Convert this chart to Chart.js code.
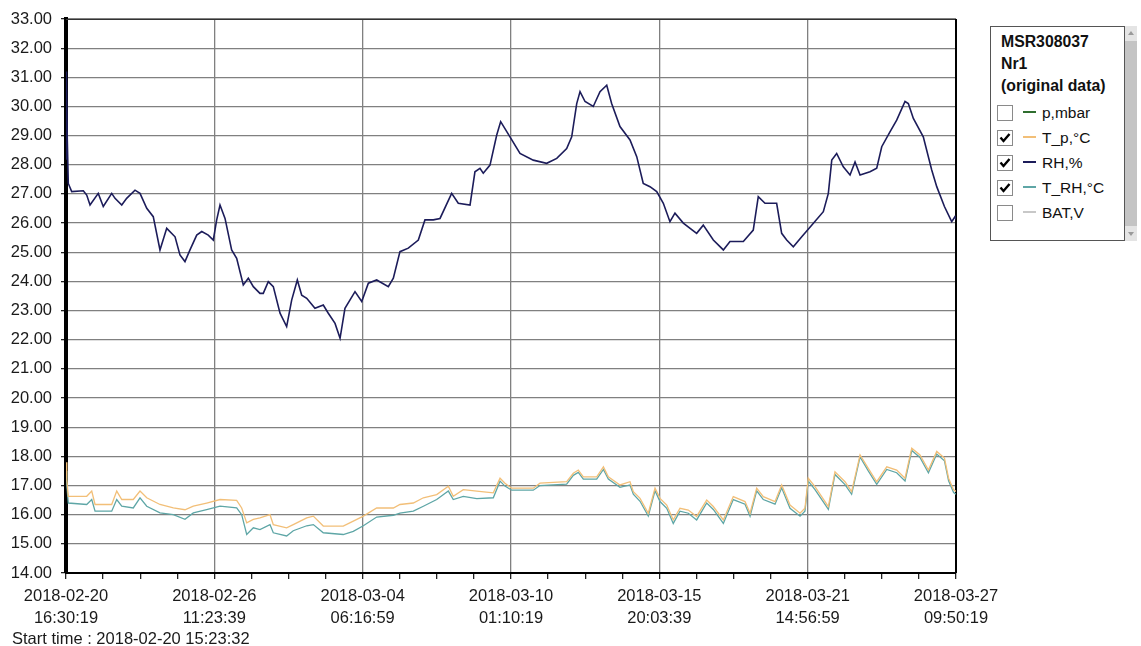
<!DOCTYPE html>
<html>
<head>
<meta charset="utf-8">
<title>MSR308037 Nr1</title>
<script src="https://cdn.jsdelivr.net/npm/chart.js@4.4.0/dist/chart.umd.min.js"></script>
<style>
body { margin:0; background:#fff; font-family:'Liberation Sans', Arial, sans-serif; }
#wrap { position:relative; width:1141px; height:646px; overflow:hidden; }
#chart { position:absolute; left:0; top:0; }
#start { position:absolute; left:12px; top:630px; font-size:16.5px; color:#1a1a1a; line-height:16px; }
#legend { position:absolute; left:990px; top:26px; width:133px; height:213px; border:1px solid #555; background:#fff; }
#legend .ttl { position:absolute; left:10px; font-weight:bold; font-size:15.8px; color:#111; white-space:nowrap; }
#legend .item { position:absolute; left:0; height:20px; width:133px; }
#legend .box { position:absolute; left:6px; top:2px; width:14px; height:14px; border:1px solid #8a8a8a; background:#fff; }
#legend .box svg { position:absolute; left:1px; top:1px; }
#legend .ln { position:absolute; left:32px; top:8px; width:13px; height:2px; }
#legend .txt { position:absolute; left:51px; top:1px; font-size:15.5px; color:#111; white-space:nowrap; }
#scroll { position:absolute; left:1125px; top:26px; width:12px; height:215px; background:#c4c4c4; }
#scroll .btn { position:absolute; left:0; width:12px; height:15px; background:#e4e4e4; }
</style>
</head>
<body>
<div id="wrap">
  <canvas id="chart" width="1141" height="646"></canvas>
  <div id="start">Start time : 2018-02-20 15:23:32</div>
  <div id="legend"></div>
  <div id="scroll">
    <div class="btn" style="top:0"><svg width="12" height="15"><path d="M3 9 L6 5 L9 9 Z" fill="#9a9a9a"/></svg></div>
    <div class="btn" style="bottom:0"><svg width="12" height="15"><path d="M3 6 L6 10 L9 6 Z" fill="#9a9a9a"/></svg></div>
  </div>
</div>
<script>
// x axis labels, one every 500000 s starting at 2018-02-20 16:30:19
const tickLabels = [
    ['2018-02-20', '16:30:19'],
    ['2018-02-26', '11:23:39'],
    ['2018-03-04', '06:16:59'],
    ['2018-03-10', '01:10:19'],
    ['2018-03-15', '20:03:39'],
    ['2018-03-21', '14:56:59'],
    ['2018-03-27', '09:50:19']
];
const majorStep = 500000 / 3600;   // hours between labelled ticks
const xMax = 6 * majorStep;

// legend entries
const legendTitle = ['MSR308037', 'Nr1', '(original data)'];
const legendNames = ['p,mbar', 'T_p,°C', 'RH,%', 'T_RH,°C', 'BAT,V'];
const legendColors = ['#2f6e2f', '#f2bf78', '#1c1c5a', '#5ea6a6', '#c8c8c8'];
const legendChecked = [false, true, true, true, false];

// RH,% (hours since first tick)
const rhHours = [0, 0.28, 0.56, 1.12, 2.15, 5.34, 16.2, 19.4, 22.5, 30.2, 34.9, 42.8, 45.9, 52.2, 56.8, 64.6,
    69.3, 75.6, 81.7, 88.0, 94.3, 102.1, 106.7, 111.4, 116.1, 122.4, 127.1, 133.2, 137.9, 141.1, 144.2,
    148.9, 155.1, 159.8, 166.0, 170.7, 175.4, 181.6, 184.7, 189.4, 194.1, 200.4, 206.6, 211.3, 216.6,
    220.7, 225.4, 233.1, 240.9, 245.6, 251.9, 256.6, 261.2, 270.6, 276.9, 283.1, 290.9, 301.8, 306.5,
    312.7, 320.5, 329.9, 336.1, 343.9, 350.2, 361.1, 367.3, 378.3, 382.9, 387.6, 390.7, 397.0, 403.3,
    407.0, 415.7, 425.1, 437.5, 450.1, 459.5, 468.8, 473.5, 478.2, 481.3, 486.0, 493.7, 500.0, 506.3,
    510.9, 518.7, 528.1, 534.4, 540.5, 546.8, 553.1, 559.3, 565.5, 570.2, 578.0, 590.5, 596.7, 606.1,
    615.5, 621.7, 634.2, 643.5, 648.2, 654.5, 665.4, 670.1, 674.8, 681.0, 688.9, 698.2, 709.1, 713.8,
    717.0, 721.6, 727.8, 734.1, 738.8, 743.5, 752.8, 759.1, 763.8, 771.5, 777.8, 785.6, 788.7, 793.4,
    802.7, 810.6, 815.3, 822.5, 829.3, 832.4, 833.3];
const rhValues = [28.2, 29.3, 31.2, 29.0, 27.36, 27.08, 27.11, 26.96, 26.62, 27.02, 26.57, 27.02, 26.85, 26.62, 26.85, 27.13,
    27.02, 26.51, 26.22, 25.08, 25.82, 25.53, 24.91, 24.68, 25.08, 25.59, 25.71, 25.59, 25.42, 26.11, 26.62,
    26.16, 25.08, 24.79, 23.88, 24.11, 23.82, 23.59, 23.59, 23.99, 23.82, 22.91, 22.45, 23.36, 24.05,
    23.53, 23.42, 23.08, 23.19, 22.91, 22.56, 22.05, 23.08, 23.65, 23.31, 23.94, 24.05, 23.82, 24.11,
    25.02, 25.14, 25.42, 26.11, 26.11, 26.16, 27.02, 26.68, 26.62, 27.76, 27.88, 27.71, 27.99, 29.02,
    29.48, 28.96, 28.39, 28.16, 28.05, 28.22, 28.56, 28.96, 30.10, 30.51, 30.17, 30.0, 30.51, 30.73,
    30.10, 29.31, 28.85, 28.28, 27.36, 27.25, 27.08, 26.68, 26.05, 26.34, 26.0, 25.65, 25.93, 25.42,
    25.08, 25.37, 25.37, 25.76, 26.91, 26.68, 26.68, 25.65, 25.42, 25.19, 25.53, 25.93, 26.39, 27.02,
    28.16, 28.39, 27.93, 27.65, 28.10, 27.65, 27.76, 27.88, 28.62, 29.13, 29.53, 30.17, 30.10, 29.59,
    28.96, 27.82, 27.25, 26.57, 26.05, 26.22, 26.15];

// T_p,°C and T_RH,°C share the same sample times
const tHours = [0.28, 0.75, 2.15, 19.4, 24.1, 27.2, 42.8, 47.5, 52.2, 63.0, 69.3, 75.6, 88.0, 100.5, 111.4,
    119.2, 131.7, 144.2, 159.8, 164.5, 169.2, 175.4, 181.6, 191.0, 194.1, 206.6, 212.8, 225.4, 231.6,
    240.9, 259.6, 269.0, 278.4, 290.9, 306.5, 312.7, 325.2, 334.6, 347.1, 358.0, 362.6, 372.0, 384.6,
    400.1, 406.4, 411.0, 417.3, 437.5, 443.8, 468.8, 475.0, 479.7, 484.4, 496.9, 503.2, 507.8, 518.7,
    528.1, 531.2, 537.5, 545.2, 551.5, 556.2, 562.5, 568.6, 574.9, 582.7, 590.5, 599.9, 606.1, 615.5,
    624.8, 635.8, 640.5, 646.7, 652.9, 663.9, 670.1, 677.9, 687.3, 691.9, 695.0, 701.3, 710.7, 713.8,
    720.0, 729.4, 735.6, 743.5, 751.2, 759.1, 768.5, 777.8, 785.6, 791.9, 799.6, 807.5, 815.3, 822.5,
    826.4, 831.1, 833.3];
const tpValues = [17.8, 17.2, 16.63, 16.63, 16.81, 16.35, 16.35, 16.81, 16.52, 16.52, 16.81, 16.58, 16.35, 16.23, 16.17,
    16.29, 16.40, 16.52, 16.49, 16.23, 15.72, 15.84, 15.89, 16.0, 15.66, 15.55, 15.66, 15.89, 15.95,
    15.61, 15.61, 15.78, 15.95, 16.23, 16.23, 16.35, 16.40, 16.58, 16.69, 16.98, 16.63, 16.86, 16.81,
    16.75, 17.25, 17.08, 16.91, 16.91, 17.08, 17.13, 17.42, 17.53, 17.3, 17.3, 17.64, 17.3, 17.02,
    17.13, 16.79, 16.56, 16.05, 16.91, 16.56, 16.33, 15.82, 16.22, 16.16, 15.94, 16.5, 16.28, 15.82,
    16.62, 16.45, 16.05, 16.91, 16.62, 16.45, 17.02, 16.33, 16.05, 16.22, 17.25, 16.96, 16.45, 16.28,
    17.47, 17.13, 16.79, 18.05, 17.59, 17.13, 17.64, 17.53, 17.25, 18.28, 18.05, 17.53, 18.17, 17.94,
    17.25, 16.85, 16.8];
const trhValues = [17.5, 17.0, 16.40, 16.35, 16.52, 16.12, 16.12, 16.52, 16.29, 16.23, 16.58, 16.29, 16.06, 16.0, 15.84,
    16.06, 16.17, 16.29, 16.23, 16.0, 15.32, 15.55, 15.49, 15.66, 15.38, 15.27, 15.45, 15.62, 15.66,
    15.38, 15.32, 15.43, 15.62, 15.92, 15.98, 16.05, 16.12, 16.29, 16.52, 16.81, 16.52, 16.63, 16.55,
    16.58, 17.15, 16.98, 16.84, 16.84, 17.0, 17.05, 17.35, 17.45, 17.22, 17.22, 17.55, 17.22, 16.94,
    17.02, 16.7, 16.46, 15.95, 16.82, 16.45, 16.22, 15.7, 16.12, 16.05, 15.82, 16.4, 16.18, 15.7,
    16.52, 16.36, 15.95, 16.82, 16.52, 16.36, 16.92, 16.22, 15.95, 16.12, 17.15, 16.86, 16.35, 16.18,
    17.38, 17.03, 16.7, 17.98, 17.5, 17.04, 17.55, 17.44, 17.16, 18.2, 17.96, 17.44, 18.08, 17.85,
    17.16, 16.76, 16.7];

const yMin = 14, yMax = 33;

function toPoints(xs, ys) {
    let pts = [];
    for (let i = 0; i < xs.length; i++) pts.push({x: xs[i], y: ys[i]});
    return pts;
}

/* legend on the right */
let lg = document.getElementById('legend');
legendTitle.forEach(function (t, i) {
    let d = document.createElement('div');
    d.className = 'ttl';
    d.style.top = (6 + i * 22) + 'px';
    d.textContent = t;
    lg.appendChild(d);
});
legendNames.forEach(function (name, i) {
    let it = document.createElement('div');
    it.className = 'item';
    it.style.top = (76 + i * 25) + 'px';
    let tick = legendChecked[i] ? '<svg width="12" height="12"><path d="M1.5 5.5 L4.5 9 L10.5 2" stroke="#000" stroke-width="2.4" fill="none"/></svg>' : '';
    it.innerHTML = '<div class="box">' + tick + '</div>' +
        '<div class="ln" style="background:' + legendColors[i] + '"></div>' +
        '<div class="txt">' + name + '</div>';
    lg.appendChild(it);
});

/* black frame on top and right like the original */
const framePlugin = {
    id: 'frame',
    beforeDatasetsDraw(chart) {
        const a = chart.chartArea, c = chart.ctx;
        c.save();
        c.strokeStyle = '#333';
        c.lineWidth = 1;
        c.beginPath();
        c.moveTo(a.left, a.top + 0.5);
        c.lineTo(a.right, a.top + 0.5);
        c.stroke();
        c.strokeStyle = '#000';
        c.lineWidth = 2;
        c.beginPath();
        c.moveTo(a.right, a.top);
        c.lineTo(a.right, a.bottom);
        c.stroke();
        c.restore();
    }
};

Chart.defaults.font.family = "'Liberation Sans', Arial, sans-serif";
Chart.defaults.font.size = 16.5;
Chart.defaults.color = '#1a1a1a';

const ctx = document.getElementById('chart');
new Chart(ctx, {
    type: 'line',
    data: {
        datasets: [{
            label: 'T_p,°C',
            data: toPoints(tHours, tpValues),
            borderColor: legendColors[1],
            borderWidth: 1.3
        }, {
            label: 'T_RH,°C',
            data: toPoints(tHours, trhValues),
            borderColor: legendColors[3],
            borderWidth: 1.3
        }, {
            label: 'RH,%',
            data: toPoints(rhHours, rhValues),
            borderColor: legendColors[2],
            borderWidth: 1.6
        }]
    },
    options: {
        responsive: false,
        animation: false,
        events: [],
        elements: { point: { radius: 0 }, line: { tension: 0 } },
        layout: { padding: { left: 0, right: 185, top: 19, bottom: 0 } },
        plugins: { legend: { display: false }, tooltip: { enabled: false } },
        scales: {
            x: {
                type: 'linear',
                min: 0,
                max: xMax,
                afterBuildTicks: function (scale) {
                    let t = [];
                    for (let k = 0; k <= 24; k++) t.push({ value: k * majorStep / 4 });
                    scale.ticks = t;
                },
                afterFit: function (scale) { scale.height = 73; },
                ticks: {
                    autoSkip: false,
                    maxRotation: 0,
                    padding: 7,
                    font: { lineHeight: 1.3 },
                    callback: function (v, i) { return i % 4 == 0 ? tickLabels[i / 4] : ''; }
                },
                grid: {
                    color: function (c) { return (c.index % 4 == 0) ? '#808080' : 'rgba(0,0,0,0)'; },
                    tickColor: '#222',
                    tickLength: 6,
                    lineWidth: 1.3
                },
                border: { color: '#000', width: 2 }
            },
            y: {
                min: yMin,
                max: yMax,
                afterFit: function (scale) { scale.width = 66; },
                ticks: {
                    stepSize: 1,
                    padding: 9,
                    callback: function (v) { return v.toFixed(2); }
                },
                grid: { color: '#808080', tickColor: '#222', tickLength: 5, lineWidth: 1.3 },
                border: { color: '#000', width: 4 }
            }
        }
    },
    plugins: [framePlugin]
});
</script>
</body>
</html>
